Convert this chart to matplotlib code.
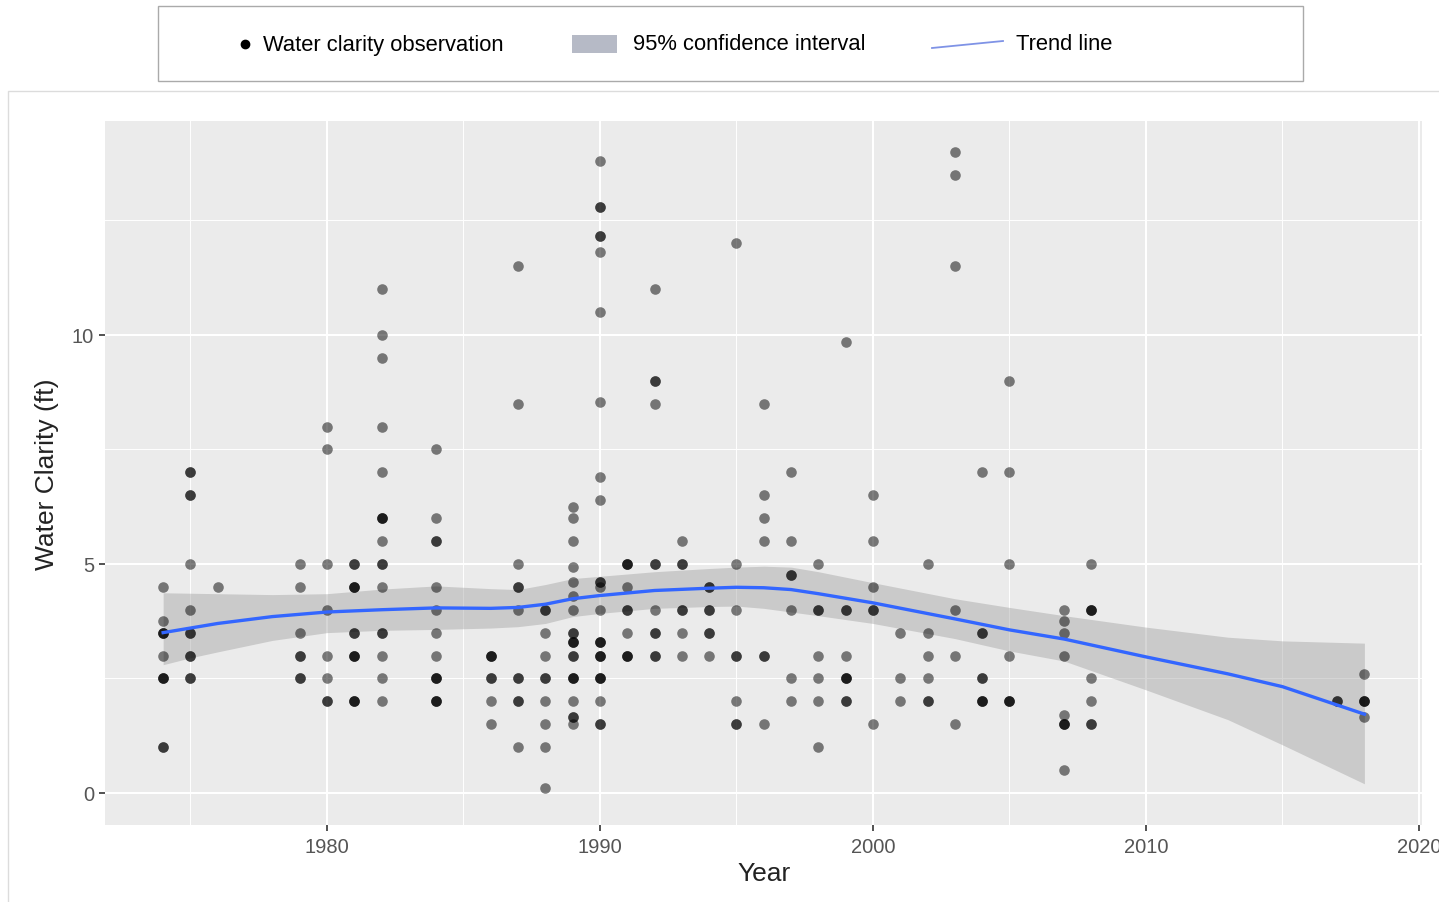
import matplotlib
matplotlib.use("Agg")
import matplotlib.pyplot as plt
from matplotlib.lines import Line2D
from matplotlib.patches import Rectangle

plt.rcParams['font.family'] = ['Liberation Sans', 'DejaVu Sans']

# Observations (one entry per dot, overlapping dots repeated)
obs_year = (
    [1974] * 11 + [1975] * 12 + [1976] * 1 + [1979] * 7 + [1980] * 8 + [1981] * 13
    + [1982] * 17 + [1984] * 14 + [1986] * 7 + [1987] * 11 + [1988] * 10
    + [1989] * 21 + [1990] * 26 + [1991] * 10 + [1992] * 11 + [1993] * 7
    + [1994] * 7 + [1995] * 8 + [1996] * 7 + [1997] * 7 + [1998] * 7
    + [1999] * 9 + [2000] * 6 + [2001] * 3 + [2002] * 6 + [2003] * 6
    + [2004] * 8 + [2005] * 7 + [2007] * 9 + [2008] * 8 + [2017] * 2 + [2018] * 5
)
obs_clarity = [
    4.5, 3.75, 3.5, 3.5, 3.5, 3.0, 2.5, 2.5, 2.5, 1.0, 1.0,                # 1974
    7, 7, 6.5, 6.5, 5, 4, 3.5, 3.5, 3, 3, 2.5, 2.5,                         # 1975
    4.5,                                                                    # 1976
    5, 4.5, 3.5, 3, 3, 2.5, 2.5,                                            # 1979
    8, 7.5, 5, 4, 3, 2.5, 2, 2,                                             # 1980
    5, 5, 4.5, 4.5, 4.5, 3.5, 3.5, 3, 3, 3, 2, 2, 2,                        # 1981
    11, 10, 9.5, 8, 7, 6, 6, 6, 5.5, 5, 5, 4.5, 3.5, 3.5, 3, 2.5, 2,        # 1982
    7.5, 6, 5.5, 5.5, 4.5, 4, 3.5, 3, 2.5, 2.5, 2.5, 2, 2, 2,               # 1984
    3, 3, 3, 2.5, 2.5, 2, 1.5,                                              # 1986
    11.5, 8.5, 5, 4.5, 4.5, 4, 2.5, 2.5, 2, 2, 1,                           # 1987
    4, 4, 3.5, 3, 2.5, 2.5, 2, 1.5, 1, 0.1,                                 # 1988
    6.25, 6, 5.5, 4.93, 4.6, 4.3, 4, 3.5, 3.5, 3.3, 3.3, 3.3, 3, 3,
    2.5, 2.5, 2.5, 2, 1.66, 1.66, 1.5,                                      # 1989
    13.8, 12.8, 12.8, 12.15, 12.15, 11.8, 10.5, 8.54, 6.9, 6.4, 4.6, 4.6,
    4.5, 4, 3.3, 3.3, 3.3, 3, 3, 3, 2.5, 2.5, 2.5, 2, 1.5, 1.5,             # 1990
    5, 5, 5, 4.5, 4, 4, 3.5, 3, 3, 3,                                       # 1991
    11, 9, 9, 8.5, 5, 5, 4, 3.5, 3.5, 3, 3,                                 # 1992
    5.5, 5, 5, 4, 4, 3.5, 3,                                                # 1993
    4.5, 4.5, 4, 4, 3.5, 3.5, 3,                                            # 1994
    12, 5, 4, 3, 3, 2, 1.5, 1.5,                                            # 1995
    8.5, 6.5, 6, 5.5, 3, 3, 1.5,                                            # 1996
    7, 5.5, 4.76, 4.76, 4, 2.5, 2,                                          # 1997
    5, 4, 4, 3, 2.5, 2, 1,                                                  # 1998
    9.85, 4, 4, 3, 2.5, 2.5, 2.5, 2, 2,                                     # 1999
    6.5, 5.5, 4.5, 4, 4, 1.5,                                               # 2000
    3.5, 2.5, 2,                                                            # 2001
    5, 3.5, 3, 2.5, 2, 2,                                                   # 2002
    14, 13.5, 11.5, 4, 3, 1.5,                                              # 2003
    7, 3.5, 3.5, 2.5, 2.5, 2, 2, 2,                                         # 2004
    9, 7, 5, 3, 2, 2, 2,                                                    # 2005
    4, 3.75, 3.5, 3, 1.7, 1.5, 1.5, 1.5, 0.5,                               # 2007
    5, 4, 4, 4, 2.5, 2, 1.5, 1.5,                                           # 2008
    2, 2,                                                                   # 2017
    2.6, 2, 2, 2, 1.65,                                                     # 2018
]

# Smoothed trend and its 95% confidence band
trend_year = [1974, 1975, 1976, 1978, 1980, 1982, 1984, 1986, 1987, 1988, 1989, 1990,
              1992, 1994, 1995, 1996, 1997, 1998, 2000, 2003, 2005, 2007, 2010,
              2013, 2015, 2018]
trend_fit = [3.5, 3.6, 3.7, 3.85, 3.95, 4.0, 4.04, 4.03, 4.05, 4.12, 4.24, 4.31,
             4.42, 4.47, 4.49, 4.48, 4.44, 4.35, 4.15, 3.8, 3.56, 3.36, 2.97,
             2.6, 2.32, 1.72]
trend_upper = [4.37, 4.36, 4.35, 4.33, 4.35, 4.45, 4.52, 4.46, 4.44, 4.55, 4.68, 4.73,
               4.83, 4.9, 4.93, 4.95, 4.93, 4.83, 4.59, 4.24, 4.05, 3.87, 3.62,
               3.4, 3.32, 3.27]
trend_lower = [2.8, 2.95, 3.08, 3.33, 3.5, 3.55, 3.57, 3.6, 3.63, 3.7, 3.85, 3.92,
               4.03, 4.07, 4.08, 4.03, 3.95, 3.87, 3.7, 3.37, 3.1, 2.88, 2.25,
               1.6, 1.05, 0.2]

W, H = 1439, 903
fig = plt.figure(figsize=(W / 100, H / 100), dpi=100)

# outer panel border, kept behind the axes
fig.add_artist(Rectangle((8 / W, -0.01), 1.0, 1 - 92 / H + 0.01, transform=fig.transFigure,
                         facecolor='white', edgecolor='#dcdcdc', lw=1, zorder=-5))

ax = fig.add_axes([105 / W, 1 - 826 / H, (1422 - 105) / W, (826 - 122) / H])
ax.set_facecolor('#ebebeb')
for s in ax.spines.values():
    s.set_visible(False)

ax.set_xlim(1971.87, 2020.11)
ax.set_ylim(-0.7, 14.67)
ax.set_xticks([1980, 1990, 2000, 2010, 2020])
ax.set_xticks([1975, 1985, 1995, 2005, 2015], minor=True)
ax.set_yticks([0, 5, 10])
ax.set_yticks([2.5, 7.5, 12.5], minor=True)
ax.grid(which='major', color='white', lw=1.5)
ax.grid(which='minor', color='white', lw=0.7)
ax.set_axisbelow(True)
ax.tick_params(which='major', length=4, width=1.2, color='#333333',
               labelcolor='#555555', labelsize=14.5)
ax.tick_params(axis='x', which='major', pad=5)
ax.tick_params(axis='y', which='major', pad=4)
ax.tick_params(which='minor', length=0)

ax.fill_between(trend_year, trend_lower, trend_upper, color='#999999', alpha=0.4, lw=0)
ax.scatter(obs_year, obs_clarity, s=58, color='black', alpha=0.5, lw=0, zorder=3)
ax.plot(trend_year, trend_fit, color='#3366ff', lw=2.4, zorder=4)

ax.set_xlabel('Year', fontsize=19, color='#222222')
ax.set_ylabel('Water Clarity (ft)', fontsize=19, color='#222222')
ax.xaxis.set_label_coords((764 - 105) / (1422 - 105), (826 - 874) / (826 - 122))
ax.xaxis.label.set_va('center')
ax.yaxis.set_label_coords((47 - 105) / (1422 - 105), 0.5)
ax.yaxis.label.set_va('center')

# legend box drawn at the top
fig.add_artist(Rectangle((158 / W, 1 - 82 / H), (1303 - 158) / W, 75 / H,
                         transform=fig.transFigure, facecolor='white',
                         edgecolor='#aaaaaa', lw=1))
ly = 1 - 45 / H
fig.add_artist(Line2D([245 / W], [ly], marker='o', markersize=6, color='black',
                      transform=fig.transFigure))
fig.text(263 / W, ly, 'Water clarity observation', fontsize=15.8, va='center')
fig.add_artist(Rectangle((572 / W, 1 - 54 / H), 45 / W, 18 / H, transform=fig.transFigure,
                         facecolor='#b6bac6', edgecolor='none'))
fig.text(633 / W, ly, '95% confidence interval', fontsize=15.8, va='center')
fig.add_artist(Line2D([932 / W, 1003 / W], [1 - 49 / H, 1 - 42 / H], color='#7f93e6',
                      lw=1.3, transform=fig.transFigure))
fig.text(1016 / W, ly, 'Trend line', fontsize=15.8, va='center')

fig.savefig('out.png', dpi=100)
